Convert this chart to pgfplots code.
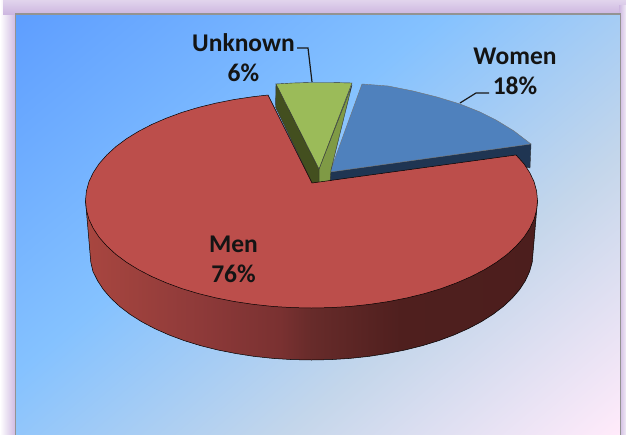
\documentclass[border=0pt]{standalone}
\usepackage{fontspec}
\setmainfont{Carlito}
\usepackage{pgfplots}
\pgfplotsset{compat=1.18}
\definecolor{redtop}{HTML}{BC4E4B}
\definecolor{bluetop}{HTML}{4F81BD}
\definecolor{bluedark}{HTML}{1F3552}
\definecolor{greentop}{HTML}{9BBB59}
\definecolor{greenlight}{HTML}{7F9A45}
\definecolor{greendark}{HTML}{434F1F}
\definecolor{frameg}{HTML}{939393}
\definecolor{lav}{HTML}{CDB7E0}
\pgfdeclarehorizontalshading{redside}{100bp}{
  rgb(0bp)=(0.66,0.275,0.25);
  rgb(25bp)=(0.66,0.275,0.25);
  rgb(37.7bp)=(0.557,0.227,0.224);
  rgb(46.5bp)=(0.478,0.192,0.192);
  rgb(50bp)=(0.404,0.169,0.165);
  rgb(59.8bp)=(0.31,0.122,0.118);
  rgb(75bp)=(0.298,0.118,0.114);
  rgb(100bp)=(0.298,0.118,0.114)}
\pgfdeclareverticalshading{daybreak}{100bp}{
  rgb(0bp)=(1,0.92,0.98);
  rgb(15bp)=(1,0.92,0.98);
  rgb(36bp)=(0.77,0.84,0.92);
  rgb(58bp)=(0.52,0.76,1);
  rgb(85bp)=(0.37,0.62,1);
  rgb(100bp)=(0.37,0.62,1)}
\begin{document}
\begin{tikzpicture}
\begin{axis}[
  hide axis, scale only axis, width=626pt, height=434pt,
  xmin=0, xmax=626, ymin=0, ymax=434, y dir=reverse,
  axis line style={draw=none}]
% outer glow
\addplot[draw=none, fill=white] coordinates {(0,0)(626,0)(626,434)(0,434)} -- cycle;
\addplot[draw=none, left color=white, middle color=lav, right color=lav] coordinates {(0,0)(16,0)(16,434)(0,434)} -- cycle;
\addplot[draw=none, top color=white!40!lav, bottom color=lav] coordinates {(3,0)(626,0)(626,14)(3,14)} -- cycle;
\addplot[draw=none, left color=lav, right color=white!70!lav] coordinates {(619,5)(626,5)(626,434)(619,434)} -- cycle;
% panel
\addplot[draw=frameg, line width=1.6pt, shading=daybreak, shading angle=40] coordinates {(15.5,14)(620.5,14)(620.5,436)(15.5,436)} -- cycle;
% Women slice
\addplot[draw=black!80, line width=0.4pt, fill=bluedark] coordinates {(330,172)(531,144)(530,168)(516,165)(330,182)} -- cycle;
\addplot[draw=black!55, line width=0.4pt, fill=bluetop] coordinates {(330,172)(362,84)(388,86)(413,91)(437,97)(460,104)(480,112)(496,120)(514,131)(531,144)} -- cycle;
% Unknown slice
\addplot[draw=black!80, line width=0.4pt, fill=greenlight] coordinates {(352,85)(319,169)(319,183)(330,182)(331,170)} -- cycle;
\addplot[draw=black!80, line width=0.4pt, fill=greendark] coordinates {(276,84)(319,169)(319,183)(312,183)(275.5,107)} -- cycle;
\addplot[draw=black!80, line width=0.4pt, fill=greentop] coordinates {(276,84)(293,83)(310,82.5)(332,82.5)(352,83)(319,169)} -- cycle;
% Men side
\addplot[draw=black, line width=0.5pt, shading=redside] coordinates {
 (537.5,200.5)(533,253)(532.2,262.3)(529.6,271.6)(525.4,280.7)(519.6,289.6)(512.2,298.2)(503.3,306.5)(492.9,314.4)(481.2,321.8)(468.1,328.7)(453.9,335)(438.6,340.7)(422.3,345.7)(405.1,350)(387.3,353.5)(368.8,356.4)(350,358.4)(330.8,359.6)(311.5,360)(292.2,359.6)(273,358.4)(254.2,356.4)(235.7,353.5)(217.9,350)(200.7,345.7)(184.4,340.7)(169.1,335)(154.9,328.7)(141.8,321.8)(130.1,314.4)(119.7,306.5)(110.8,298.2)(103.4,289.6)(97.6,280.7)(93,271.6)(90.8,262.3)(90,253)(85.5,200.5)
 } -- cycle;
% Men top
\addplot[draw=black, line width=0.5pt, fill=redtop] coordinates {
 (312,183)(516,155)(523.9,163.7)(529.8,172.7)(534.1,181.8)(536.6,191.1)(537.5,200.5)(536.6,209.9)(534.1,219.2)(529.8,228.3)(523.9,237.3)(516.3,245.9)(507.2,254.3)(496.6,262.2)(484.6,269.6)(471.3,276.5)(456.8,282.8)(441.1,288.6)(424.5,293.6)(407,297.9)(388.8,301.5)(370,304.3)(350.7,306.4)(331.2,307.6)(311.5,308)(291.8,307.6)(272.3,306.4)(253,304.3)(234.2,301.5)(216,297.9)(198.5,293.6)(181.9,288.6)(166.2,282.8)(151.7,276.5)(138.4,269.6)(126.4,262.2)(115.8,254.3)(106.7,245.9)(99.1,237.3)(93.2,228.3)(88.9,219.2)(86.4,209.9)(85.5,200.5)(86.4,191.1)(88.9,181.8)(93.2,172.7)(99.1,163.7)(106.7,155.1)(115.8,146.7)(126.4,138.8)(138.4,131.4)(151.7,124.5)(166.2,118.2)(181.9,112.4)(198.5,107.4)(216,103.1)(234.2,99.5)(253,96.7)(268,95)
 } -- cycle;
% leader lines
\addplot[draw=black!90, line width=1.2pt] coordinates {(297,48)(308,48)(312,82)};
\addplot[draw=black!90, line width=1.2pt] coordinates {(460,103)(476,93)(489,93)};
% labels
\node[font=\fontsize{25.5}{30.5}\selectfont\bfseries, align=center, text=black!92] at (axis cs:243.5,57.5) {Unknown\\6\%};
\node[font=\fontsize{25.5}{30.5}\selectfont\bfseries, align=center, text=black!92] at (axis cs:515,71.5) {Women\\18\%};
\node[font=\fontsize{25.5}{30.5}\selectfont\bfseries, align=center, text=black!92] at (axis cs:233.5,259.5) {Men\\76\%};
\end{axis}
\end{tikzpicture}
\end{document}
